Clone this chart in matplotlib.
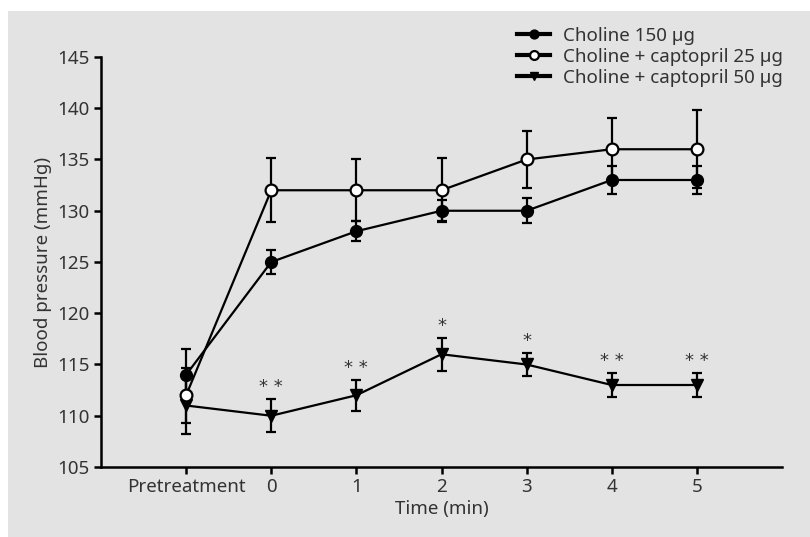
"""Blood pressure after choline with and without captopril."""

import matplotlib
matplotlib.use("Agg")
import matplotlib.pyplot as plt
from matplotlib.patches import Rectangle

# data
time_labels = ["Pretreatment", "0", "1", "2", "3", "4", "5"]

choline = [114, 125, 128, 130, 130, 133, 133]
choline_err = [2.5, 1.2, 1.0, 1.0, 1.2, 1.4, 1.4]

capto25 = [112, 132, 132, 132, 135, 136, 136]
capto25_err = [2.7, 3.1, 3.0, 3.1, 2.8, 3.0, 3.8]

capto50 = [111, 110, 112, 116, 115, 113, 113]
capto50_err = [2.8, 1.6, 1.5, 1.6, 1.1, 1.2, 1.2]
capto50_stars = ["", "* *", "* *", "*", "*", "* *", "* *"]

plt.rcParams["font.family"] = ["Noto Sans", "DejaVu Sans"]
TEXT = "#333333"
FS = 13.5

fig = plt.figure(figsize=(8.10, 5.37), dpi=100)
fig.patch.set_facecolor("white")
fig.patches.append(Rectangle((8 / 810, 0), 1, 1 - 11 / 537, transform=fig.transFigure,
                             facecolor="#e3e3e3", edgecolor="none", zorder=-10))

ax = fig.add_axes([101 / 810, 1 - 467 / 537, (782 - 101) / 810, (467 - 57) / 537])
ax.set_facecolor("none")

x = list(range(len(time_labels)))
common = dict(color="black", lw=1.6, capsize=3.5, capthick=1.6, elinewidth=1.6,
              markersize=8.5, clip_on=False)

ax.errorbar(x, choline, yerr=choline_err, fmt="-o", mfc="black", mec="black",
            label="Choline 150 \u00b5g", zorder=3, **common)
ax.errorbar(x, capto25, yerr=capto25_err, fmt="-o", mfc="white", mec="black",
            mew=1.6, label="Choline + captopril 25 \u00b5g", zorder=4, **common)
ax.errorbar(x, capto50, yerr=capto50_err, fmt="-v", mfc="black", mec="black",
            label="Choline + captopril 50 \u00b5g", zorder=3, **common)

for xi, yi, ei, s in zip(x, capto50, capto50_err, capto50_stars):
    if s:
        ax.text(xi, yi + ei + 0.3, s, ha="center", va="bottom", fontsize=13,
                color=TEXT, fontfamily="DejaVu Sans")

ax.set_xlim(-1, 7)
ax.set_ylim(105, 145)
ax.set_xticks(x)
ax.set_xticklabels(time_labels)
ax.set_yticks(range(105, 146, 5))

for side in ("top", "right"):
    ax.spines[side].set_visible(False)
for side in ("left", "bottom"):
    ax.spines[side].set_linewidth(1.8)
ax.tick_params(direction="out", length=5, width=1.8, labelsize=FS, labelcolor=TEXT, pad=3)

ax.set_ylabel("Blood pressure (mmHg)", fontsize=FS, color=TEXT, labelpad=4)
ax.set_xlabel("Time (min)", fontsize=FS, color=TEXT, labelpad=3)

handles, labels = ax.get_legend_handles_labels()
handles = [h[0] for h in handles]
leg = fig.legend(handles, labels, loc="upper left", bbox_to_anchor=(517 / 810, 1 - 27 / 537),
                 frameon=False, fontsize=FS, handlelength=1.76, handletextpad=0.7,
                 labelspacing=0.16, borderaxespad=0, borderpad=0, markerscale=0.75)
for t in leg.get_texts():
    t.set_color(TEXT)
for h in leg.legend_handles:
    h.set_linewidth(3)

fig.savefig("out.png", dpi=100)
